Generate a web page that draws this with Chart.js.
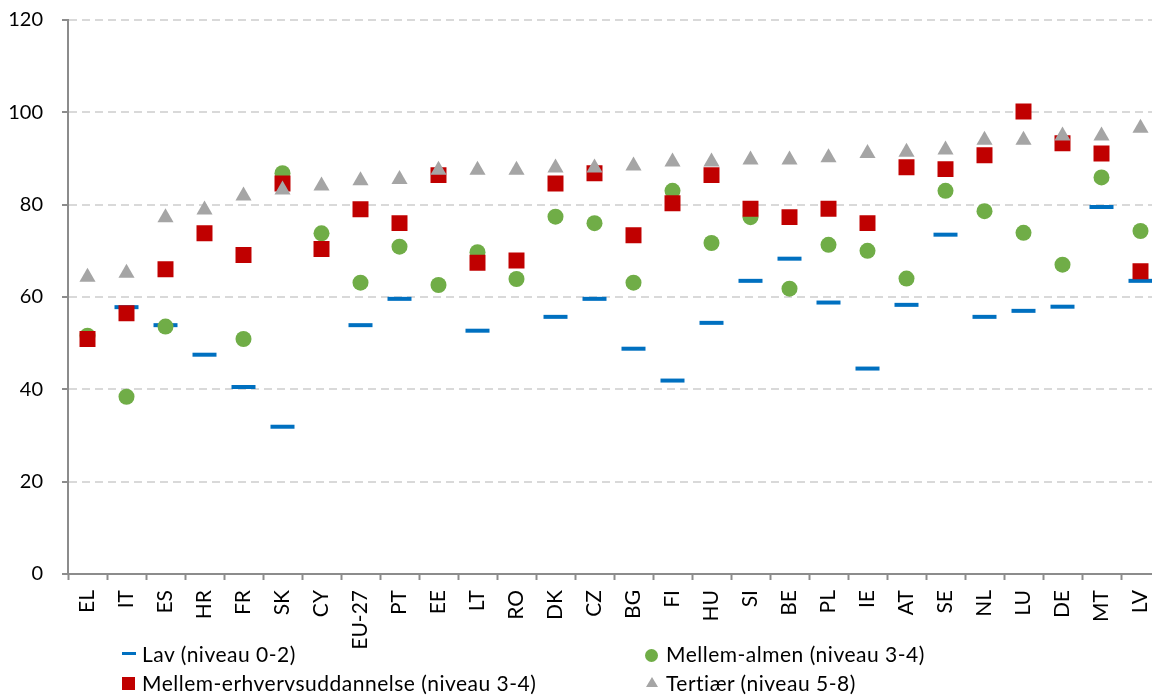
<!DOCTYPE html>
<html>
<head>
<meta charset="utf-8">
<script src="https://cdn.jsdelivr.net/npm/chart.js@4/dist/chart.umd.min.js"></script>
<style>
  html, body { margin: 0; padding: 0; background: #fff; overflow: hidden; }
  #wrap { position: relative; width: 1152px; height: 695px; overflow: hidden; }
  #c { position: absolute; left: 0; top: 0; }
  .lg { position: absolute; font-family: Lato, "Open Sans", sans-serif; font-size: 21px; letter-spacing: 0.5px; color: #000; line-height: 26px; white-space: nowrap; }
  .mk { position: absolute; }
</style>
</head>
<body>
<div id="wrap">
  <canvas id="c" width="1176" height="695"></canvas>
  <div class="mk" style="left:122px;top:652px;width:14px;height:3px;background:#0070c0"></div>
  <div class="lg" style="left:142px;top:641px">Lav (niveau 0-2)</div>
  <div class="mk" style="left:645px;top:649px;width:13px;height:13px;border-radius:50%;background:#70ad47"></div>
  <div class="lg" style="left:666px;top:641px">Mellem-almen (niveau 3-4)</div>
  <div class="mk" style="left:122px;top:677px;width:13px;height:13px;background:#c00000"></div>
  <div class="lg" style="left:142px;top:670px">Mellem-erhvervsuddannelse (niveau 3-4)</div>
  <div class="mk" style="left:646px;top:677px;width:0;height:0;border-left:6px solid transparent;border-right:6px solid transparent;border-bottom:10px solid #a5a5a5"></div>
  <div class="lg" style="left:666px;top:670px">Tertiær (niveau 5-8)</div>
</div>
<script>
const categories = ["EL","IT","ES","HR","FR","SK","CY","EU-27","PT","EE","LT","RO","DK","CZ","BG","FI","HU","SI","BE","PL","IE","AT","SE","NL","LU","DE","MT","LV"];
const seriesNames = ["Lav (niveau 0-2)", "Mellem-almen (niveau 3-4)", "Mellem-erhvervsuddannelse (niveau 3-4)", "Tertiær (niveau 5-8)"];
const lav = [null,57.8,53.9,47.5,40.5,31.9,null,53.9,59.6,null,52.7,null,55.7,59.6,48.8,41.9,54.4,63.5,68.3,58.8,44.5,58.3,73.5,55.7,57.0,57.9,79.5,63.5];
const almen = [51.6,38.4,53.6,null,50.9,86.8,73.8,63.1,70.9,62.6,69.7,63.9,77.4,76.0,63.1,83.0,71.7,77.3,61.8,71.3,70.0,64.0,83.0,78.6,73.9,67.0,85.9,74.3];
const erhverv = [50.9,56.5,66.0,73.8,69.1,84.6,70.4,79.0,76.0,86.4,67.4,67.9,84.6,86.8,73.4,80.3,86.4,79.1,77.3,79.1,76.0,88.1,87.7,90.7,100.2,93.3,91.1,65.6];
const tertiaer = [64.3,65.2,77.2,78.9,81.9,83.2,84.1,85.2,85.5,87.5,87.5,87.5,88.0,88.0,88.4,89.3,89.3,89.7,89.7,90.2,91.1,91.4,91.9,94.0,94.0,94.9,94.9,96.6];
const yTicks = [0,20,40,60,80,100,120];

const FONT = "Lato, 'Open Sans', sans-serif";
const axisGray = "#8c8c8c";

function ds(label, data, style, radius, color, order, extra) {
  return Object.assign({
    label, data, showLine: false, pointStyle: style,
    pointRadius: radius, pointHoverRadius: radius,
    backgroundColor: color, borderColor: color,
    pointBackgroundColor: color, pointBorderColor: color,
    pointBorderWidth: 0, pointHoverBorderWidth: 0, order
  }, extra || {});
}

new Chart(document.getElementById("c"), {
  type: "line",
  data: {
    labels: categories,
    datasets: [
      ds(seriesNames[0], lav, "line", 12, "#0070c0", 4, {pointBorderWidth: 4, pointHoverBorderWidth: 4}),
      ds(seriesNames[1], almen, "circle", 8, "#70ad47", 3),
      ds(seriesNames[2], erhverv, "rect", 11.3, "#c00000", 2),
      ds(seriesNames[3], tertiaer, "triangle", 9.3, "#a5a5a5", 1)
    ]
  },
  options: {
    responsive: false,
    animation: false,
    devicePixelRatio: 1,
    layout: { padding: { top: 20, right: 6, bottom: 0, left: 0 } },
    plugins: { legend: { display: false }, tooltip: { enabled: false } },
    scales: {
      x: {
        type: "category",
        offset: true,
        grid: { offset: true, drawOnChartArea: false, drawTicks: true, tickLength: 6, tickColor: axisGray, tickWidth: 2 },
        border: { display: true, color: axisGray, width: 2 },
        ticks: { autoSkip: false, maxRotation: 90, minRotation: 90, padding: 10, color: "#000", font: { family: FONT, size: 21 } },
        afterFit: s => { s.height = 121; s.paddingLeft = 0; s.paddingRight = 0; }
      },
      y: {
        min: 0, max: 120,
        afterBuildTicks: s => { s.ticks = yTicks.map(v => ({ value: v })); },
        grid: {
          color: c => (c.tick && c.tick.value === 0) ? "rgba(0,0,0,0)" : "#d9d9d9",
          lineWidth: 2, drawTicks: true, tickLength: 6, tickColor: axisGray, tickWidth: 2
        },
        border: { display: true, color: axisGray, width: 2, dash: [8, 5] },
        ticks: { padding: 19, color: "#000", font: { family: FONT, size: 20 } },
        afterFit: s => { s.width = 68; s.paddingTop = 0; s.paddingBottom = 0; }
      }
    }
  }
});
</script>
</body>
</html>
